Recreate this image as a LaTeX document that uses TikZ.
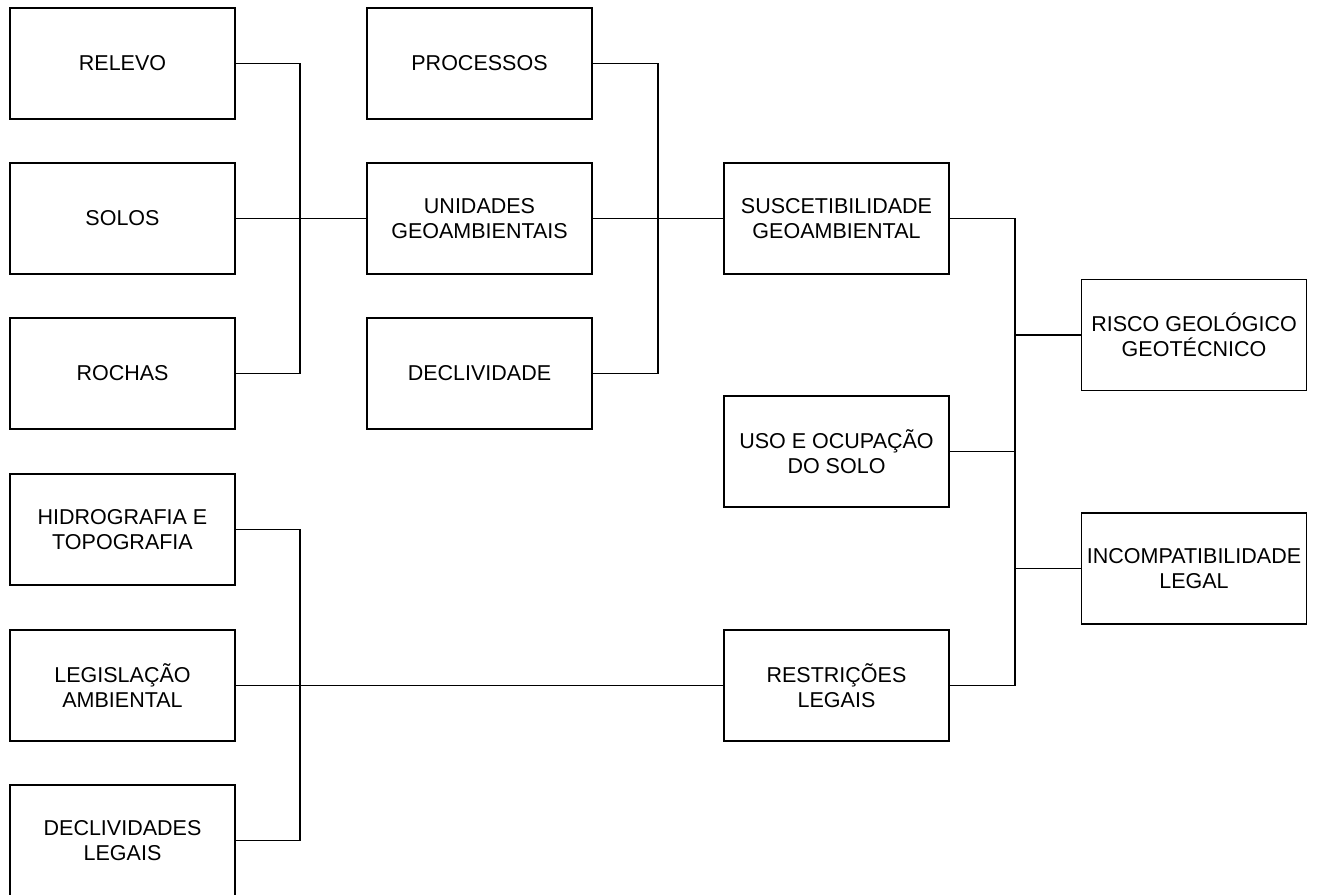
\documentclass[tikz,border=0pt]{standalone}
\usepackage{fontspec}
\setmainfont{Liberation Sans}
\begin{document}
\begin{tikzpicture}[x=1pt,y=-1pt,
  box/.style={draw=black, line width=1.4pt, minimum width=225pt, minimum height=111pt, inner sep=0pt, align=center, font=\fontsize{21.5pt}{25pt}\selectfont},
  link/.style={draw=black, line width=1.4pt}]
\clip (0,0) rectangle (1322,894);
\fill[white] (0,0) rectangle (1322,894);
% column 1
\node[box] (relevo) at (122.5,63.5) {RELEVO};
\node[box] (solos) at (122.5,218.5) {SOLOS};
\node[box] (rochas) at (122.5,373.5) {ROCHAS};
\node[box] (hidro) at (122.5,529.5) {HIDROGRAFIA E\\TOPOGRAFIA};
\node[box] (legis) at (122.5,685.5) {LEGISLAÇÃO\\AMBIENTAL};
\node[box] (declleg) at (122.5,840.5) {DECLIVIDADES\\LEGAIS};
% column 2
\node[box] (proc) at (479.5,63.5) {PROCESSOS};
\node[box] (unid) at (479.5,218.5) {UNIDADES\\GEOAMBIENTAIS};
\node[box] (decl) at (479.5,373.5) {DECLIVIDADE};
% column 3
\node[box] (susc) at (836.5,218.5) {SUSCETIBILIDADE\\GEOAMBIENTAL};
\node[box] (uso) at (836.5,451.5) {USO E OCUPAÇÃO\\DO SOLO};
\node[box] (restr) at (836.5,685.5) {RESTRIÇÕES\\LEGAIS};
% column 4
\node[box] (risco) at (1194,335) {RISCO GEOLÓGICO\\GEOTÉCNICO};
\node[box] (incomp) at (1194,568.5) {INCOMPATIBILIDADE\\LEGAL};
% junctions
\coordinate (j1) at (300,218.5);
\coordinate (j2) at (658,218.5);
\coordinate (j3) at (1015,451.5);
\coordinate (j4) at (300,685.5);
% connectors
\draw[link] (relevo.east) -| (j1) |- (rochas.east);
\draw[link] (solos.east) -- (unid.west);
\draw[link] (proc.east) -| (j2) |- (decl.east);
\draw[link] (unid.east) -- (susc.west);
\draw[link] (susc.east) -| (j3) |- (restr.east);
\draw[link] (uso.east) -- (j3);
\draw[link] (j3 |- risco.west) -- (risco.west);
\draw[link] (j3 |- incomp.west) -- (incomp.west);
\draw[link] (hidro.east) -| (j4) |- (declleg.east);
\draw[link] (legis.east) -- (restr.west);
\end{tikzpicture}
\end{document}
